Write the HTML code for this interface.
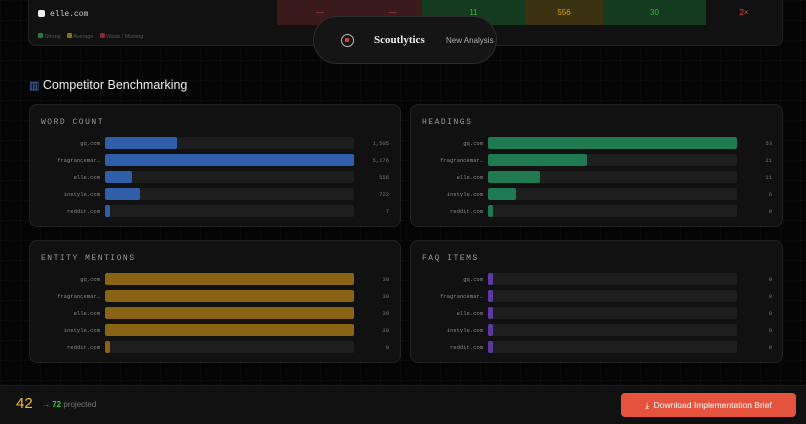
<!DOCTYPE html>
<html><head><meta charset="utf-8"><style>
*{box-sizing:border-box;margin:0;padding:0}
body{width:806px;height:424px;overflow:hidden;background:#050505;font-family:"Liberation Sans",sans-serif;position:relative;
background-image:linear-gradient(rgba(255,255,255,0.025) 1px,transparent 1px),linear-gradient(90deg,rgba(255,255,255,0.025) 1px,transparent 1px);background-size:20px 20px}
.abs{position:absolute}
.card{position:absolute;background:#111;border:1px solid #222;border-radius:8px}
.mono{font-family:"Liberation Mono",monospace}
.ptitle{position:absolute;left:11px;top:13px;font-size:8px;letter-spacing:1.5px;color:#9a9a9a}
.lbl{position:absolute;font-size:5.5px;color:#888;text-align:right;width:70px}
.track{position:absolute;height:12px;background:#1e1e1e;border-radius:2px}
.bar{position:absolute;height:12px;border-radius:2px}
.val{position:absolute;font-size:5.5px;color:#777;text-align:right;width:40px}
.cell{position:absolute;top:0;height:25px;font-size:8px;display:flex;align-items:center;justify-content:center}
</style></head><body>
<div class="card" style="left:28px;top:-8px;width:755px;height:54px">
</div>
<div class="abs mono" style="left:38px;top:10px;font-size:8px;color:#ccc"><span style="display:inline-block;width:7px;height:7px;background:#eee;border-radius:2px;margin-right:5px;vertical-align:-1px"></span>elle.com</div>
<div class="cell" style="left:277px;width:86px;background:#3a1a1a;color:#c44"> —</div>
<div class="cell" style="left:363px;width:59px;background:#3a1a1a;color:#c44">—</div>
<div class="cell" style="left:422px;width:103px;background:#143a1f;color:#3b3">11</div>
<div class="cell" style="left:525px;width:78px;background:#3a3210;color:#d4a20f">556</div>
<div class="cell" style="left:603px;width:103px;background:#143a1f;color:#3b3">30</div>
<div class="cell" style="left:706px;width:76px;color:#e44">2×</div>
<div class="abs" style="left:38px;top:33px;font-size:5.5px;color:#555">
<span style="display:inline-block;width:5px;height:5px;background:#2a7a3a;border-radius:1px"></span> Strong &nbsp;&nbsp;
<span style="display:inline-block;width:5px;height:5px;background:#8a7010;border-radius:1px"></span> Average &nbsp;&nbsp;
<span style="display:inline-block;width:5px;height:5px;background:#8a2a2a;border-radius:1px"></span> Weak / Missing</div>
<div class="abs" style="left:313px;top:16px;width:184px;height:48px;background:#151515;border:1px solid #2c2c2c;border-radius:24px">
<div class="abs" style="left:27px;top:17px;width:13px;height:13px;border:1.5px solid #bbb;border-radius:50%"><div style="margin:3px;width:4px;height:4px;background:#c44;border-radius:1px"></div></div>
<div class="abs" style="left:60px;top:17px;font-family:'Liberation Serif',serif;font-weight:bold;font-size:11px;color:#eee">Scoutlytics</div>
<div class="abs" style="left:132px;top:19px;font-size:8px;color:#aaa">New Analysis</div>
</div>
<div class="abs" style="left:29px;top:78px;font-size:12.5px;color:#eee"><span style="color:#4a7fd4;font-size:11px">▥</span> Competitor Benchmarking</div>
<div id="panels"></div>
<div class="abs" style="left:0;top:385px;width:806px;height:39px;background:#111;border-top:1px solid #1c1c1c"></div>
<div class="abs" style="left:16px;top:395px;font-size:15px;color:#f0c020">42</div>
<div class="abs" style="left:42px;top:400px;font-size:8px;color:#777">→ <b style="color:#3c3">72</b> projected</div>
<div class="abs" style="left:621px;top:393px;width:175px;height:24px;background:#e5533f;border-radius:4px;color:#fff;font-size:8.5px;display:flex;align-items:center;justify-content:center">⤓&nbsp; Download Implementation Brief</div>
<script>
const sites=["gq.com","fragrancemar…","elle.com","instyle.com","reddit.com"];
const wordCount=[1505,5176,556,722,7];
const wordLabels=["1,505","5,176","556","722","7"];
const headings=[53,21,11,6,0];
const entities=[30,30,30,30,0];
const faqs=[0,0,0,0,0];
const panels=[
 {t:"WORD COUNT",v:wordCount,l:wordLabels,c:"#2f5fa8",x:29,y:104},
 {t:"HEADINGS",v:headings,l:headings.map(String),c:"#1f7a52",x:410,y:104},
 {t:"ENTITY MENTIONS",v:entities,l:entities.map(String),c:"#8a6414",x:29,y:240},
 {t:"FAQ ITEMS",v:faqs,l:faqs.map(String),c:"#5a3aa0",x:410,y:240}];
const root=document.getElementById('panels');
panels.forEach((p,pi)=>{
 const d=document.createElement('div');d.className='card';
 
 
 d.style.cssText=`left:${p.x}px;top:${p.y}px;width:${p.x<400?372:373}px;height:123px`;
 const t=document.createElement('div');t.className='ptitle mono';t.textContent=p.t;
 
 
 d.appendChild(t);
 const max=Math.max(...p.v,1);const tx=pi%2?77:75,tw=249;
 const sx=v=>Math.max(5,v/max*tw);
 sites.forEach((s,i)=>{
  const y=32+i*17;
  const lb=document.createElement('div');lb.className='lbl mono';lb.textContent=s;lb.style.left=(tx-75)+'px';lb.style.top=(y+3)+'px';
  
  
  const tr=document.createElement('div');tr.className='track';tr.style.left=tx+'px';tr.style.top=y+'px';tr.style.width=tw+'px';
  
  
  const b=document.createElement('div');b.className='bar';b.style.left=tx+'px';b.style.top=y+'px';b.style.width=sx(p.v[i])+'px';b.style.background=p.c;
  
  
  const v=document.createElement('div');v.className='val mono';v.textContent=p.l[i];v.style.left=(tx+244)+'px';v.style.top=(y+3)+'px';
  
  
  d.append(lb,tr,b,v);
 });
 root.appendChild(d);
});
</script>
</body></html>
